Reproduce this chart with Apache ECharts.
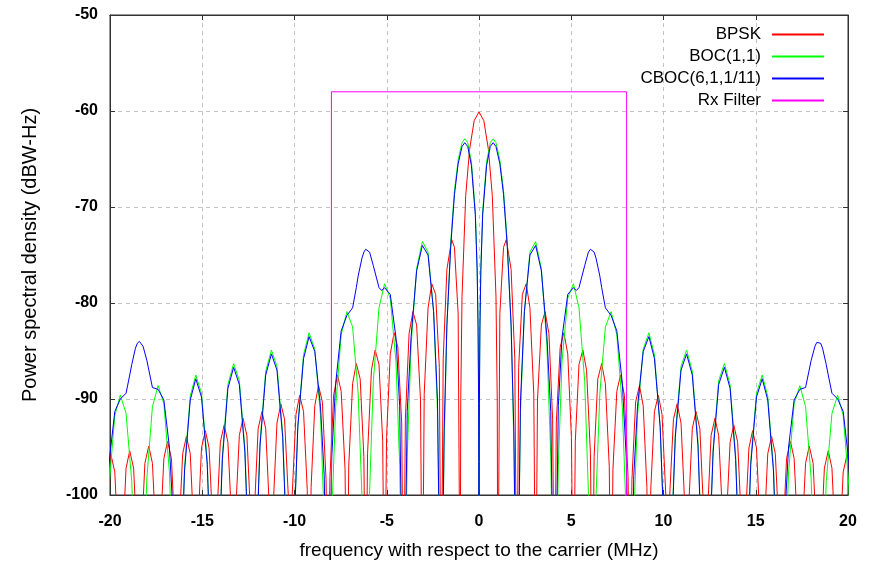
<!DOCTYPE html>
<html>
<head>
<meta charset="utf-8">
<script src="https://cdn.jsdelivr.net/npm/echarts@6/dist/echarts.min.js"></script>
<style>html,body{margin:0;padding:0;background:#fff;}#c{width:870px;height:565px;}</style>
</head>
<body>
<div id="c"></div>
<script>
// Frequency (MHz) / PSD (dBW-Hz) pairs
const bpsk = [
[-20.15,-97.6],[-19.95,-95.8],[-19.74,-97.6],[-19.54,-106],[-19.44,-115],
[-19.33,-105.6],[-19.13,-97.2],[-18.93,-95.4],[-18.72,-97.2],[-18.52,-105.6],[-18.41,-115],
[-18.31,-105.1],[-18.11,-96.7],[-17.90,-94.9],[-17.70,-96.7],[-17.49,-105.1],[-17.39,-115],
[-17.29,-104.6],[-17.08,-96.2],[-16.88,-94.4],[-16.67,-96.2],[-16.47,-104.6],[-16.37,-115],
[-16.27,-104.1],[-16.06,-95.7],[-15.86,-93.9],[-15.65,-95.7],[-15.45,-104.1],[-15.35,-115],
[-15.24,-103.5],[-15.04,-95.1],[-14.83,-93.3],[-14.63,-95.1],[-14.42,-103.5],[-14.32,-115],
[-14.22,-102.9],[-14.02,-94.5],[-13.81,-92.7],[-13.61,-94.5],[-13.40,-102.9],[-13.30,-115],
[-13.20,-102.2],[-12.99,-93.8],[-12.79,-92.0],[-12.58,-93.8],[-12.38,-102.2],[-12.28,-115],
[-12.17,-101.5],[-11.97,-93.1],[-11.76,-91.3],[-11.56,-93.1],[-11.36,-101.5],[-11.25,-115],
[-11.15,-101.0],[-10.95,-92.5],[-10.74,-90.5],[-10.54,-92.1],[-10.33,-100.3],[-10.23,-115],
[-10.13,-100.2],[-9.92,-91.6],[-9.72,-89.6],[-9.51,-91.3],[-9.31,-99.4],[-9.21,-115],
[-9.10,-99.2],[-8.90,-90.7],[-8.70,-88.6],[-8.49,-90.3],[-8.29,-98.4],[-8.18,-115],
[-8.08,-98.2],[-7.88,-89.6],[-7.67,-87.5],[-7.47,-89.2],[-7.26,-97.3],[-7.16,-115],
[-7.06,-97.0],[-6.85,-88.4],[-6.65,-86.3],[-6.44,-87.9],[-6.24,-96.0],[-6.14,-115],
[-6.04,-95.7],[-5.83,-87.0],[-5.63,-84.9],[-5.42,-86.4],[-5.22,-94.4],[-5.12,-115],
[-5.01,-94.0],[-4.81,-85.3],[-4.60,-83.1],[-4.40,-84.6],[-4.19,-92.5],[-4.09,-115],
[-3.99,-92.1],[-3.79,-83.2],[-3.58,-80.9],[-3.38,-82.3],[-3.17,-90.1],[-3.07,-115],
[-2.97,-89.5],[-2.76,-80.5],[-2.56,-78.0],[-2.35,-79.1],[-2.15,-86.7],[-2.05,-115],
[-1.94,-85.8],[-1.74,-76.5],[-1.48,-73.4],[-1.33,-74.2],[-1.13,-81.1],[-1.02,-115],
[-0.99,-90.3],[-0.92,-79.3],[-0.72,-68.8],[-0.51,-64.0],[-0.26,-61.0],
[0,-60.1],
[0.26,-61.0],[0.51,-64.0],[0.72,-68.8],[0.92,-79.3],[0.99,-90.3],[1.02,-115],
[1.13,-81.1],[1.33,-74.2],[1.48,-73.4],[1.74,-76.5],[1.94,-85.8],[2.05,-115],
[2.15,-86.7],[2.35,-79.1],[2.56,-78.0],[2.76,-80.5],[2.97,-89.5],[3.07,-115],
[3.17,-90.1],[3.38,-82.3],[3.58,-80.9],[3.79,-83.2],[3.99,-92.1],[4.09,-115],
[4.19,-92.5],[4.40,-84.6],[4.60,-83.1],[4.81,-85.3],[5.01,-94.0],[5.12,-115],
[5.22,-94.4],[5.42,-86.4],[5.63,-84.9],[5.83,-87.0],[6.04,-95.7],[6.14,-115],
[6.24,-96.0],[6.44,-87.9],[6.65,-86.3],[6.85,-88.4],[7.06,-97.0],[7.16,-115],
[7.26,-97.3],[7.47,-89.2],[7.67,-87.5],[7.88,-89.6],[8.08,-98.2],[8.18,-115],
[8.29,-98.4],[8.49,-90.3],[8.70,-88.6],[8.90,-90.7],[9.10,-99.2],[9.21,-115],
[9.31,-99.4],[9.51,-91.3],[9.72,-89.6],[9.92,-91.6],[10.13,-100.2],[10.23,-115],
[10.33,-100.3],[10.54,-92.1],[10.74,-90.5],[10.95,-92.5],[11.15,-101.0],[11.25,-115],
[11.36,-101.5],[11.56,-93.1],[11.76,-91.3],[11.97,-93.1],[12.17,-101.5],[12.28,-115],
[12.38,-102.2],[12.58,-93.8],[12.79,-92.0],[12.99,-93.8],[13.20,-102.2],[13.30,-115],
[13.40,-102.9],[13.61,-94.5],[13.81,-92.7],[14.02,-94.5],[14.22,-102.9],[14.32,-115],
[14.42,-103.5],[14.63,-95.1],[14.83,-93.3],[15.04,-95.1],[15.24,-103.5],[15.35,-115],
[15.45,-104.1],[15.65,-95.7],[15.86,-93.9],[16.06,-95.7],[16.27,-104.1],[16.37,-115],
[16.47,-104.6],[16.67,-96.2],[16.88,-94.4],[17.08,-96.2],[17.29,-104.6],[17.39,-115],
[17.49,-105.1],[17.70,-96.7],[17.90,-94.9],[18.11,-96.7],[18.31,-105.1],[18.41,-115],
[18.52,-105.6],[18.72,-97.2],[18.93,-95.4],[19.13,-97.2],[19.33,-105.6],[19.44,-115],
[19.54,-106],[19.74,-97.6],[19.95,-95.8],[20.15,-97.6]
];

const boc11 = [
[-20.26,-110],[-20.05,-99.1],[-19.74,-91.7],[-19.44,-89.6],[-19.13,-91.5],[-18.82,-98.6],[-18.62,-109.6],[-18.41,-120],
[-18.21,-109.3],[-18.00,-98.2],[-17.70,-90.8],[-17.39,-88.6],[-17.08,-90.5],[-16.78,-97.6],[-16.57,-108.6],[-16.37,-120],
[-16.16,-108.4],[-15.96,-97.1],[-15.65,-89.7],[-15.35,-87.5],[-15.04,-89.4],[-14.73,-96.4],[-14.53,-107.5],[-14.32,-120],
[-14.12,-107.2],[-13.91,-95.9],[-13.61,-88.5],[-13.30,-86.3],[-12.99,-88.1],[-12.69,-95.1],[-12.48,-106.2],[-12.28,-120],
[-12.07,-105.9],[-11.87,-94.5],[-11.56,-87.1],[-11.25,-84.9],[-10.95,-86.6],[-10.64,-93.6],[-10.43,-104.6],[-10.23,-120],
[-10.03,-104.2],[-9.82,-92.9],[-9.51,-85.4],[-9.21,-83.1],[-8.90,-84.8],[-8.59,-91.7],[-8.39,-102.7],[-8.18,-120],
[-7.98,-102.3],[-7.77,-90.9],[-7.47,-83.3],[-7.16,-80.9],[-6.85,-82.5],[-6.55,-89.4],[-6.34,-100.3],[-6.14,-120],
[-5.93,-99.7],[-5.73,-88.2],[-5.42,-80.5],[-5.12,-78.0],[-4.81,-79.5],[-4.50,-86.1],[-4.30,-96.9],[-4.09,-120],
[-3.89,-96.0],[-3.68,-84.4],[-3.38,-76.4],[-3.07,-73.6],[-2.76,-74.7],[-2.46,-80.9],[-2.25,-91.3],[-2.05,-120],
[-1.89,-94.7],[-1.74,-82.3],[-1.53,-73.6],[-1.33,-68.3],[-1.13,-65.1],[-0.92,-63.3],[-0.77,-62.9],[-0.61,-63.3],
[-0.41,-65.3],[-0.20,-70.4],[-0.10,-76.2],[-0.05,-82.2],[-0.02,-90.1],[-0.01,-96.1],
[0,-130],
[0.01,-96.1],[0.02,-90.1],[0.05,-82.2],[0.10,-76.2],[0.20,-70.4],[0.41,-65.3],
[0.61,-63.3],[0.77,-62.9],[0.92,-63.3],[1.13,-65.1],[1.33,-68.3],[1.53,-73.6],[1.74,-82.3],[1.89,-94.7],[2.05,-120],
[2.25,-91.3],[2.46,-80.9],[2.76,-74.7],[3.07,-73.6],[3.38,-76.4],[3.68,-84.4],[3.89,-96.0],[4.09,-120],
[4.30,-96.9],[4.50,-86.1],[4.81,-79.5],[5.12,-78.0],[5.42,-80.5],[5.73,-88.2],[5.93,-99.7],[6.14,-120],
[6.34,-100.3],[6.55,-89.4],[6.85,-82.5],[7.16,-80.9],[7.47,-83.3],[7.77,-90.9],[7.98,-102.3],[8.18,-120],
[8.39,-102.7],[8.59,-91.7],[8.90,-84.8],[9.21,-83.1],[9.51,-85.4],[9.82,-92.9],[10.03,-104.2],[10.23,-120],
[10.43,-104.6],[10.64,-93.6],[10.95,-86.6],[11.25,-84.9],[11.56,-87.1],[11.87,-94.5],[12.07,-105.9],[12.28,-120],
[12.48,-106.2],[12.69,-95.1],[12.99,-88.1],[13.30,-86.3],[13.61,-88.5],[13.91,-95.9],[14.12,-107.2],[14.32,-120],
[14.53,-107.5],[14.73,-96.4],[15.04,-89.4],[15.35,-87.5],[15.65,-89.7],[15.96,-97.1],[16.16,-108.4],[16.37,-120],
[16.57,-108.6],[16.78,-97.6],[17.08,-90.5],[17.39,-88.6],[17.70,-90.8],[18.00,-98.2],[18.21,-109.3],[18.41,-120],
[18.62,-109.6],[18.82,-98.6],[19.13,-91.5],[19.44,-89.6],[19.74,-91.7],[20.05,-99.1],[20.26,-110]
];

const cboc = [
[-20.26,-104],[-20.05,-96.6],[-19.74,-91.3],[-19.44,-90.0],[-19.13,-89.4],[-18.93,-87.5],[-18.82,-86.4],[-18.62,-84.7],[-18.52,-84.2],
[-18.41,-84.0],[-18.31,-84.1],[-18.21,-84.5],[-18.00,-86.0],[-17.70,-88.8],[-17.39,-89.0],[-17.08,-90.1],[-16.78,-95.0],[-16.57,-102.4],[-16.37,-120],
[-16.16,-108.8],[-15.96,-97.5],[-15.65,-90.1],[-15.35,-87.9],[-15.04,-89.8],[-14.73,-96.8],[-14.53,-107.9],[-14.32,-120],
[-14.12,-107.6],[-13.91,-96.3],[-13.61,-88.9],[-13.30,-86.7],[-12.99,-88.5],[-12.69,-95.5],[-12.48,-106.6],[-12.28,-120],
[-12.07,-106.3],[-11.87,-94.9],[-11.56,-87.5],[-11.25,-85.3],[-10.95,-87.0],[-10.64,-94.0],[-10.43,-105],[-10.23,-120],
[-10.03,-104],[-9.82,-92.9],[-9.51,-85.8],[-9.21,-83.5],[-8.90,-85.05],[-8.59,-90.8],[-8.39,-98.0],[-8.18,-120],
[-7.98,-96.0],[-7.77,-88.4],[-7.47,-82.9],[-7.16,-81.3],[-6.85,-80.5],[-6.65,-78.4],[-6.55,-77.2],[-6.34,-75.3],[-6.24,-74.7],
[-6.14,-74.4],[-6.04,-74.4],[-5.93,-74.7],[-5.73,-76.1],[-5.42,-78.4],[-5.27,-78.7],[-5.12,-78.4],[-4.81,-79.1],[-4.50,-83.6],[-4.30,-90.7],[-4.09,-120],
[-3.89,-91.3],[-3.68,-83.5],[-3.38,-76.65],[-3.07,-74.0],[-2.76,-75.0],[-2.46,-80.9],[-2.25,-90.2],[-2.05,-120],
[-1.89,-93.4],[-1.74,-82.3],[-1.53,-74.0],[-1.33,-68.7],[-1.13,-65.5],[-0.92,-63.7],[-0.77,-63.3],[-0.61,-63.7],
[-0.41,-65.7],[-0.20,-70.8],[-0.10,-76.6],[-0.05,-82.6],[-0.02,-90.5],[-0.01,-96.5],
[0,-130],
[0.01,-96.5],[0.02,-90.5],[0.05,-82.6],[0.10,-76.6],[0.20,-70.8],[0.41,-65.7],
[0.61,-63.7],[0.77,-63.3],[0.92,-63.7],[1.13,-65.5],[1.33,-68.7],[1.53,-74.0],[1.74,-82.3],[1.89,-93.4],[2.05,-120],
[2.25,-90.2],[2.46,-80.9],[2.76,-75.0],[3.07,-74.0],[3.38,-76.65],[3.68,-83.5],[3.89,-91.3],[4.09,-120],
[4.30,-90.7],[4.50,-83.6],[4.81,-79.1],[5.12,-78.4],[5.27,-78.7],[5.42,-78.4],[5.73,-76.1],[5.93,-74.7],[6.04,-74.4],
[6.14,-74.4],[6.24,-74.7],[6.34,-75.3],[6.55,-77.2],[6.65,-78.4],[6.85,-80.5],[7.16,-81.3],[7.47,-82.9],[7.77,-88.4],[7.98,-96.0],[8.18,-120],
[8.39,-98.0],[8.59,-90.8],[8.90,-85.05],[9.21,-83.5],[9.51,-85.8],[9.82,-92.9],[10.03,-104],[10.23,-120],
[10.43,-105],[10.64,-94.0],[10.95,-87.0],[11.25,-85.3],[11.56,-87.5],[11.87,-94.9],[12.07,-106.3],[12.28,-120],
[12.48,-106.6],[12.69,-95.5],[12.99,-88.5],[13.30,-86.7],[13.61,-88.9],[13.91,-96.3],[14.12,-107.6],[14.32,-120],
[14.53,-107.9],[14.73,-96.8],[15.04,-89.8],[15.35,-87.9],[15.65,-90.1],[15.96,-97.5],[16.16,-108.8],[16.37,-120],
[16.57,-102.4],[16.78,-95.0],[17.08,-90.1],[17.39,-89.0],[17.70,-88.8],[18.00,-86.0],[18.21,-84.5],[18.31,-84.1],
[18.41,-84.0],[18.52,-84.2],[18.62,-84.7],[18.82,-86.4],[18.93,-87.5],[19.13,-89.4],[19.44,-90.0],[19.74,-91.3],[20.05,-96.6],[20.26,-104]
];

const rxFilter = [[-8,-120],[-8,-58],[8,-58],[8,-120]];

const seriesNames = ['BPSK','BOC(1,1)','CBOC(6,1,1/11)','Rx Filter'];
const seriesColors = ['#ff0000','#00ff00','#0000ff','#ff00ff'];
const xRange = [-20, 20, 5];
const yRange = [-100, -50, 10];

const FONT = '"Liberation Sans", Arial, sans-serif';
const chart = echarts.init(document.getElementById('c'), null, {renderer: 'canvas'});
const datasets = [bpsk, boc11, cboc, rxFilter];

const frameLine = {show: true, onZero: false, lineStyle: {color: '#333'}};
const innerTick = {show: true, inside: true, length: 5, lineStyle: {color: '#333'}};
const gridLine = {show: true, lineStyle: {color: '#c4c4c4', type: [4, 4]}};
const tickFont = {fontFamily: FONT, fontSize: 16, fontWeight: 'bold', color: '#000'};

chart.setOption({
  animation: false,
  backgroundColor: '#ffffff',
  textStyle: {fontFamily: FONT},
  grid: {left: 110, right: 22, top: 15, bottom: 69, show: true, borderColor: '#333', borderWidth: 1, backgroundColor: 'transparent'},
  legend: {
    orient: 'vertical', right: 45, top: 26, align: 'right', padding: 0,
    itemWidth: 52, itemHeight: 14, itemGap: 5,
    itemStyle: {opacity: 0},
    textStyle: {fontFamily: FONT, fontSize: 17, color: '#000', padding: [0, 6, 0, 0]},
    data: seriesNames
  },
  xAxis: [{
    type: 'value', min: xRange[0], max: xRange[1], interval: xRange[2],
    name: 'frequency with respect to the carrier (MHz)', nameLocation: 'middle', nameGap: 46,
    nameTextStyle: {fontFamily: FONT, fontSize: 19, color: '#000'},
    axisLine: frameLine, axisTick: innerTick,
    axisLabel: Object.assign({margin: 19}, tickFont),
    splitLine: gridLine
  }, {
    type: 'value', position: 'top', min: xRange[0], max: xRange[1], interval: xRange[2],
    axisLine: frameLine, axisTick: innerTick,
    axisLabel: {show: false}, splitLine: {show: false}
  }],
  yAxis: [{
    type: 'value', min: yRange[0], max: yRange[1], interval: yRange[2],
    name: 'Power spectral density (dBW-Hz)', nameLocation: 'middle', nameGap: 70,
    nameTextStyle: {fontFamily: FONT, fontSize: 20, color: '#000'},
    axisLine: frameLine, axisTick: innerTick,
    axisLabel: Object.assign({margin: 12}, tickFont),
    splitLine: gridLine
  }, {
    type: 'value', position: 'right', min: yRange[0], max: yRange[1], interval: yRange[2],
    axisLine: frameLine, axisTick: innerTick,
    axisLabel: {show: false}, splitLine: {show: false}
  }],
  series: datasets.map((d, i) => ({
    name: seriesNames[i], type: 'line', data: d, xAxisIndex: 0, yAxisIndex: 0,
    symbol: 'none', showSymbol: false, clip: true, smooth: false,
    lineStyle: {color: seriesColors[i], width: 1}, itemStyle: {color: seriesColors[i]},
    z: 2 + i
  }))
});
</script>
</body>
</html>
